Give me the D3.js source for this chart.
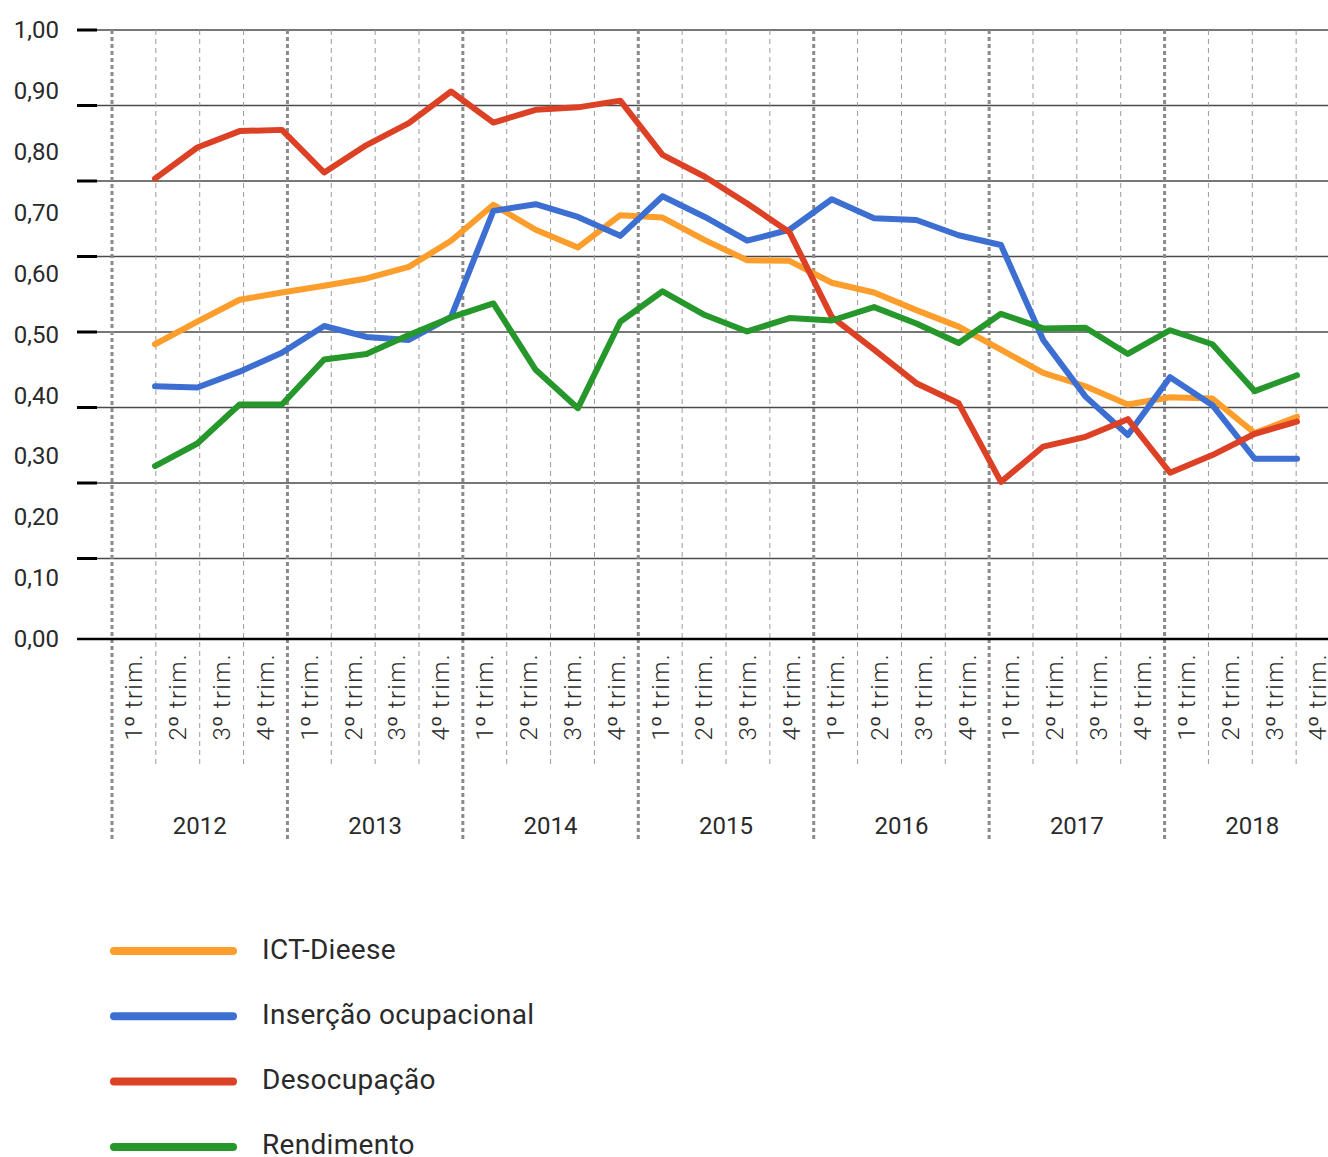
<!DOCTYPE html>
<html>
<head>
<meta charset="utf-8">
<script src="https://cdn.jsdelivr.net/npm/d3@7"></script>
<style>
  body { margin: 0; background: #fff; }
  text { font-family: Roboto, "DejaVu Sans", sans-serif; fill: #2a2a2a; }
</style>
</head>
<body>
<div id="container"></div>
<script>
// categories
var years = ["2012", "2013", "2014", "2015", "2016", "2017", "2018"];
var quarters = ["1º trim.", "2º trim.", "3º trim.", "4º trim."];

// series values, one per quarter from 1º trim. 2012
var ictDieese   = [0.484, 0.521, 0.557, 0.569, 0.580, 0.592, 0.611, 0.654, 0.713, 0.672, 0.643, 0.696, 0.692, 0.655,
                   0.622, 0.621, 0.585, 0.569, 0.540, 0.513, 0.475, 0.437, 0.415, 0.385, 0.397, 0.395, 0.338, 0.365];
var insercao    = [0.415, 0.413, 0.439, 0.470, 0.514, 0.496, 0.491, 0.529, 0.703, 0.714, 0.693, 0.662, 0.727, 0.693,
                   0.654, 0.672, 0.722, 0.691, 0.688, 0.663, 0.647, 0.491, 0.398, 0.335, 0.430, 0.384, 0.296, 0.296];
var desocupacao = [0.756, 0.807, 0.834, 0.836, 0.766, 0.811, 0.847, 0.899, 0.848, 0.869, 0.873, 0.884, 0.795, 0.759,
                   0.715, 0.668, 0.529, 0.475, 0.420, 0.387, 0.258, 0.316, 0.332, 0.361, 0.273, 0.302, 0.337, 0.357];
var rendimento  = [0.284, 0.321, 0.385, 0.385, 0.459, 0.468, 0.499, 0.528, 0.551, 0.442, 0.379, 0.521, 0.571, 0.532,
                   0.505, 0.527, 0.523, 0.545, 0.518, 0.486, 0.534, 0.510, 0.511, 0.468, 0.507, 0.484, 0.407, 0.433];

var seriesNames = ["ICT-Dieese", "Inserção ocupacional", "Desocupação", "Rendimento"];
var seriesColors = ["#fd9d2b", "#3c6fd1", "#dd4125", "#25972b"];

// axis labels
var yLabels = [0, 0.1, 0.2, 0.3, 0.4, 0.5, 0.6, 0.7, 0.8, 0.9, 1];
var gridValues = [0.125, 0.25, 0.375, 0.5, 0.625, 0.75, 0.875, 1];

var W = 1328, H = 1157;

var svg = d3.select('#container').append('svg')
  .attr('width', W)
  .attr('height', H);

// periods = every quarter of every year
var periods = [];
years.forEach(function(yr) {
  quarters.forEach(function(q, qi) { periods.push(yr + '-' + (qi + 1)); });
});

// scales
var xBand = d3.scaleBand().domain(periods).range([112, 1340]);
var xYear = d3.scaleBand().domain(years).range([112, 1340]);
var x = d3.scalePoint().domain(periods).range([155, 1297]);
var y = d3.scaleLinear().domain([0, 1]).range([639, 30]);
var yGrid = d3.scaleLinear().domain([0, 1]).range([634, 30]);

var comma = function(d) { return d3.format('.2f')(d).replace('.', ','); };

// horizontal gridlines
svg.append('g')
  .selectAll('line')
  .data(gridValues)
  .enter().append('line')
  .attr('x1', 97).attr('x2', W)
  .attr('y1', function(d) { return yGrid(d); })
  .attr('y2', function(d) { return yGrid(d); })
  .attr('stroke', '#4a4a4a')
  .attr('stroke-width', 1.3);

// small black tick marks on the left
svg.append('g')
  .selectAll('line')
  .data(gridValues)
  .enter().append('line')
  .attr('x1', 77).attr('x2', 97)
  .attr('y1', function(d) { return yGrid(d); })
  .attr('y2', function(d) { return yGrid(d); })
  .attr('stroke', '#000')
  .attr('stroke-width', 3);

// y labels
var yAxis = d3.axisLeft(y).tickValues(yLabels).tickFormat(comma).tickSize(0).tickPadding(3);
var gy = svg.append('g')
  .attr('transform', 'translate(62,0)')
  .call(yAxis);
gy.select('.domain').remove();
gy.selectAll('text')
  .attr('font-size', 24)
  .attr('font-family', 'Roboto, sans-serif')
  .attr('fill', '#2a2a2a');

// quarter separators (thin dashed)
var bounds = periods.map(function(p, i) { return i; });
svg.append('g')
  .selectAll('line')
  .data(bounds.filter(function(i) { return i % 4 !== 0; }))
  .enter().append('line')
  .attr('x1', function(i) { return xBand(periods[i]); })
  .attr('x2', function(i) { return xBand(periods[i]); })
  .attr('y1', y(1)).attr('y2', 767)
  .attr('stroke', '#9a9a9a')
  .attr('stroke-width', 1)
  .attr('stroke-dasharray', '5,4');

// year separators (thick dotted)
svg.append('g')
  .selectAll('line')
  .data(years)
  .enter().append('line')
  .attr('x1', function(d) { return xYear(d); })
  .attr('x2', function(d) { return xYear(d); })
  .attr('y1', y(1)).attr('y2', 840)
  .attr('stroke', '#8a8a8a')
  .attr('stroke-width', 3)
  .attr('stroke-dasharray', '4,3');

// zero axis
svg.append('line')
  .attr('x1', 77).attr('x2', W)
  .attr('y1', y(0)).attr('y2', y(0))
  .attr('stroke', '#000')
  .attr('stroke-width', 2.5);

// quarter labels, rotated; the ordinal sign gets a font that underlines it
var qLabels = svg.append('g')
  .selectAll('text')
  .data(periods)
  .enter().append('text')
  .attr('transform', function(d) {
    return 'translate(' + (xBand(d) + xBand.bandwidth() / 2) + ',653) rotate(-90)';
  })
  .attr('dy', '0.35em')
  .attr('text-anchor', 'end')
  .attr('font-size', 24)
  .attr('font-weight', 300)
  .attr('letter-spacing', 1.4);

qLabels.each(function(d) {
  var label = quarters[+d.split('-')[1] - 1];
  var t = d3.select(this);
  t.append('tspan').text(label.slice(0, 1));
  t.append('tspan').attr('font-family', '"Liberation Sans", sans-serif').attr('font-weight', 400)
    .text(label.slice(1, 2));
  t.append('tspan').text(label.slice(2));
});

// year labels
svg.append('g')
  .selectAll('text')
  .data(years)
  .enter().append('text')
  .attr('x', function(d) { return xYear(d) + xYear.bandwidth() / 2; })
  .attr('y', 834)
  .attr('text-anchor', 'middle')
  .attr('font-size', 24)
  .text(function(d) { return d; });

// lines
var allSeries = [ictDieese, insercao, desocupacao, rendimento];
var line = d3.line()
  .x(function(d, i) { return x(periods[i]); })
  .y(function(d) { return y(d); });

svg.append('g')
  .selectAll('path')
  .data(allSeries)
  .enter().append('path')
  .attr('d', line)
  .attr('fill', 'none')
  .attr('stroke', function(d, i) { return seriesColors[i]; })
  .attr('stroke-width', 6)
  .attr('stroke-linejoin', 'round')
  .attr('stroke-linecap', 'round');

// legend
var legend = svg.append('g')
  .selectAll('g')
  .data(seriesNames)
  .enter().append('g')
  .attr('transform', function(d, i) { return 'translate(0,' + (951 + i * 65.3) + ')'; });

legend.append('line')
  .attr('x1', 114).attr('x2', 233)
  .attr('stroke', function(d, i) { return seriesColors[i]; })
  .attr('stroke-width', 8)
  .attr('stroke-linecap', 'round');

legend.append('text')
  .attr('x', 262)
  .attr('y', 7.5)
  .attr('font-size', 28)
  .attr('letter-spacing', 0.3)
  .text(function(d) { return d; });
</script>
</body>
</html>
